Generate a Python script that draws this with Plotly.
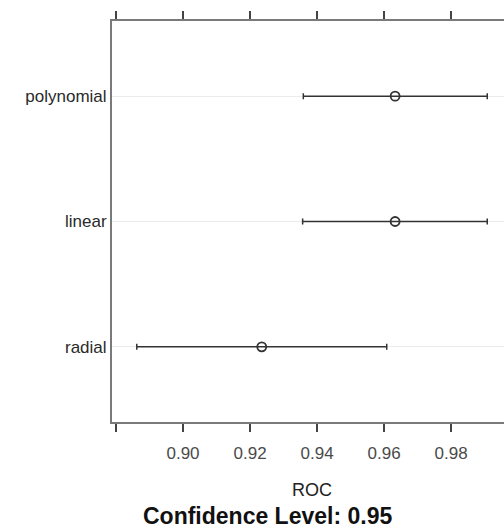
import plotly.graph_objects as go

models = ["radial", "linear", "polynomial"]
roc = [0.9235, 0.9633, 0.9633]
lower = [0.8862, 0.9357, 0.9359]
upper = [0.9608, 0.9908, 0.9908]
tick_vals = [0.88, 0.90, 0.92, 0.94, 0.96, 0.98]
tick_text = ["", "0.90", "0.92", "0.94", "0.96", "0.98"]

err_plus = [u - r for u, r in zip(upper, roc)]
err_minus = [r - l for r, l in zip(roc, lower)]

fig = go.Figure()
fig.add_trace(go.Scatter(
    x=roc, y=models, mode="markers",
    marker=dict(symbol="circle-open", size=9, color="#333333", line=dict(width=1.8, color="#333333")),
    error_x=dict(type="data", symmetric=False, array=err_plus, arrayminus=err_minus,
                 color="#333333", thickness=1.5, width=3),
    showlegend=False,
))

fig.update_layout(
    width=504, height=529,
    margin=dict(l=112, r=0, t=21, b=107),
    plot_bgcolor="white", paper_bgcolor="white",
    font=dict(family="Liberation Sans, Arial, sans-serif", size=12, color="#333333"),
    xaxis=dict(range=[0.8788, 0.9958], tickvals=tick_vals, ticktext=tick_text,
               showline=True, linecolor="#7a7a7a", linewidth=2, mirror="ticks",
               ticks="outside", ticklen=8, tickwidth=1.5, tickcolor="#444444",
               showgrid=False, zeroline=False, ticklabelstandoff=7,
               tickfont=dict(size=17, color="#4a4a4a")),
    yaxis=dict(categoryorder="array", categoryarray=models, range=[-0.6, 2.6],
               showline=True, linecolor="#7a7a7a", linewidth=2, mirror=False,
               ticks="", showgrid=True, gridcolor="#ebebeb", gridwidth=1,
               zeroline=False, tickfont=dict(size=17, color="#2a2a2a")),
    annotations=[
        dict(text="ROC", x=312, y=490, xref="paper", yref="paper", showarrow=False,
             font=dict(size=18, color="#222222")),
        dict(text="<b>Confidence Level: 0.95</b>", x=267, y=516, xref="paper", yref="paper",
             showarrow=False, font=dict(size=23, color="#111111")),
    ],
)
# convert pixel annotation positions to paper coordinates
pw, ph = 504 - 112 - 0, 529 - 21 - 107
for a in fig.layout.annotations:
    px, py = a.x, a.y
    a.x = (px - 112) / pw
    a.y = (529 - 107 - py) / ph
    a.xanchor = "center"
    a.yanchor = "middle"

fig.write_html("out.html")
